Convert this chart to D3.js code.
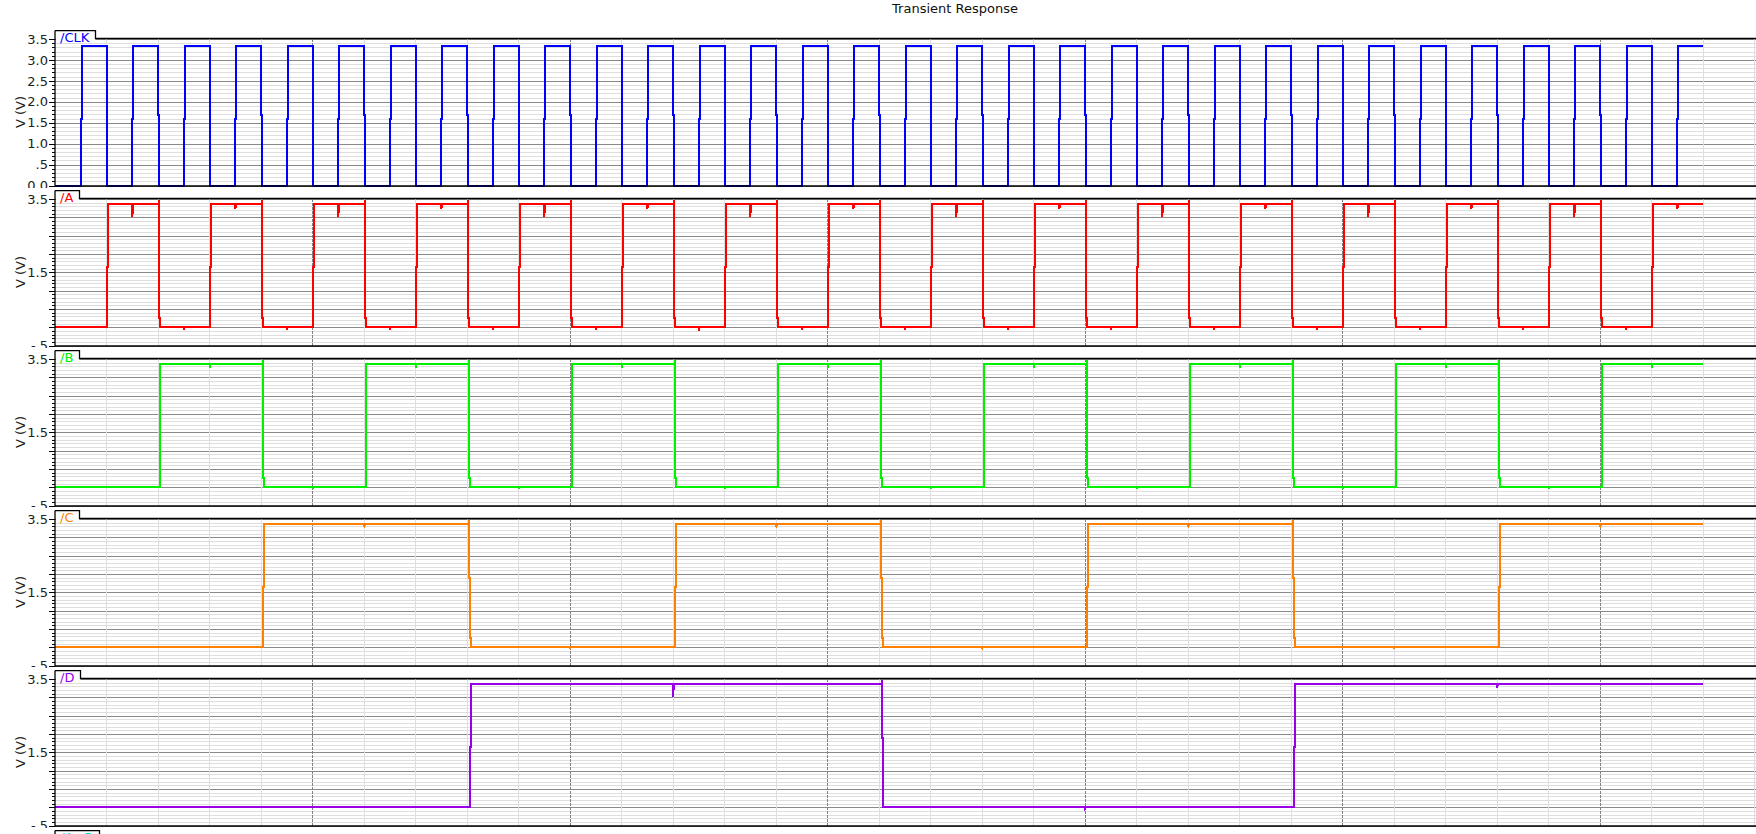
<!DOCTYPE html>
<html><head><meta charset="utf-8">
<script src="https://cdn.jsdelivr.net/npm/d3@7"></script>
<style>
body{margin:0;background:#fff;overflow:hidden}
svg{display:block}
text{font-family:"DejaVu Sans",sans-serif}
</style></head><body>
<svg id="chart" width="1756" height="834"></svg>
<script>
// ---------------- data ----------------
const title = "Transient Response";
const signalNames = ["/CLK", "/A", "/B", "/C", "/D", "/A+B"];
const signalColors = ["#0000ff", "#ff0000", "#00f000", "#ff8000", "#9a00e6", "#00e0e0"];
const yAxisTitle = "V (V)";
const endTime = 32;

// transition times (time units = one clock period)
const clkEdges = [0.5, 1, 1.5, 2, 2.5, 3, 3.5, 4, 4.5, 5, 5.5, 6, 6.5, 7, 7.5, 8, 8.5, 9, 9.5, 10,
  10.5, 11, 11.5, 12, 12.5, 13, 13.5, 14, 14.5, 15, 15.5, 16, 16.5, 17, 17.5, 18, 18.5, 19, 19.5, 20,
  20.5, 21, 21.5, 22, 22.5, 23, 23.5, 24, 24.5, 25, 25.5, 26, 26.5, 27, 27.5, 28, 28.5, 29, 29.5, 30,
  30.5, 31, 31.5];
const aEdges = [1.01, 2.01, 3.01, 4.01, 5.01, 6.01, 7.01, 8.01, 9.01, 10.01, 11.01, 12.01, 13.01, 14.01,
  15.01, 16.01, 17.01, 18.01, 19.01, 20.01, 21.01, 22.01, 23.01, 24.01, 25.01, 26.01, 27.01, 28.01,
  29.01, 30.01, 31.01];
const bEdges = [2.03, 4.03, 6.03, 8.03, 10.03, 12.03, 14.03, 16.03, 18.03, 20.03, 22.03, 24.03, 26.03,
  28.03, 30.03];
const cEdges = [4.04, 8.04, 12.04, 16.04, 20.04, 24.04, 28.04];
const dEdges = [8.05, 16.05, 24.05];

// small coupling glitches [time, volts]
const clkGlitches = [];
const aGlitches = [[1.5, 3.0], [2.5, -0.08], [3.5, 3.22], [4.5, -0.06], [5.5, 3.02], [6.5, -0.08],
  [7.5, 3.22], [8.5, -0.06], [9.5, 3.02], [10.5, -0.06], [11.5, 3.22], [12.5, -0.1], [13.5, 3.02],
  [14.5, -0.06], [15.5, 3.22], [16.5, -0.08], [17.5, 3.02], [18.5, -0.06], [19.5, 3.22], [20.5, -0.08],
  [21.5, 3.02], [22.5, -0.06], [23.5, 3.22], [24.5, -0.08], [25.5, 3.02], [26.5, -0.06], [27.5, 3.22],
  [28.5, -0.08], [29.5, 3.02], [30.5, -0.06], [31.5, 3.22]];
const bGlitches = [[3.0, 3.27], [5.0, -0.05], [7.0, 3.27], [9.0, -0.05], [11.0, 3.27], [13.0, -0.05],
  [15.0, 3.27], [17.0, -0.05], [19.0, 3.27], [21.0, -0.05], [23.0, 3.27], [25.0, -0.05], [27.0, 3.27],
  [29.0, -0.05], [31.0, 3.27]];
const cGlitches = [[6.0, 3.27], [10.0, -0.05], [14.0, 3.27], [18.0, -0.06], [22.0, 3.27], [26.0, -0.05], [30.0, 3.27]];
const dGlitches = [[12.0, 3.0], [20.0, -0.04], [28.0, 3.25]];

// levels: [low, high, rise step, fall step, overshoot]
const clkLevels = [0.0, 3.34, 1.59, 1.69, 3.34];
const logicLevels = [0.0, 3.35, 1.65, 1.88, 3.47];

// axis ticks
const clkTickValues = [0, 0.5, 1.0, 1.5, 2.0, 2.5, 3.0, 3.5];
const clkTickLabels = ["0.0", ".5", "1.0", "1.5", "2.0", "2.5", "3.0", "3.5"];
const logicTickValues = [-0.5, 1.5, 3.5];
const logicTickLabels = ["-.5", "1.5", "3.5"];
const clkDomain = [0, 3.5];
const logicDomain = [-0.5, 3.5];

// ---------------- layout ----------------
const W = 1756, H = 834;
const plotLeft = 55, plotRight = 1756;
const panelPitch = 160, panelTop0 = 38.5, panelBottom0 = 185.5, tabH = 8;
const svg = d3.select("#chart");

const x = d3.scaleLinear().domain([0, 33]).range([plotLeft, plotLeft + 33 * 51.5]);

svg.append("text").attr("x", 955).attr("y", 13).attr("text-anchor", "middle")
  .attr("font-size", 13).attr("fill", "#111").text(title);

const panels = [
  {edges: clkEdges, glitches: clkGlitches, levels: clkLevels, domain: clkDomain, tv: clkTickValues, tl: clkTickLabels},
  {edges: aEdges, glitches: aGlitches, levels: logicLevels, domain: logicDomain, tv: logicTickValues, tl: logicTickLabels},
  {edges: bEdges, glitches: bGlitches, levels: logicLevels, domain: logicDomain, tv: logicTickValues, tl: logicTickLabels},
  {edges: cEdges, glitches: cGlitches, levels: logicLevels, domain: logicDomain, tv: logicTickValues, tl: logicTickLabels},
  {edges: dEdges, glitches: dGlitches, levels: logicLevels, domain: logicDomain, tv: logicTickValues, tl: logicTickLabels},
  {edges: null, glitches: [], levels: logicLevels, domain: logicDomain, tv: logicTickValues, tl: logicTickLabels}
];

const defs = svg.append("defs");

function buildPoints(p) {
  const [low, high, midUp, midDown, over] = p.levels;
  const jog = 0.018;
  const ev = p.edges.map(t => ({t, kind: "e"}))
    .concat(p.glitches.map(g => ({t: g[0], kind: "g", v: g[1]})))
    .sort((a, b) => a.t - b.t);
  let lvl = low;
  const pts = [[0, lvl]];
  ev.forEach(e => {
    if (e.kind === "e") {
      if (lvl === low) {
        pts.push([e.t, low], [e.t, midUp], [e.t + jog, midUp], [e.t + jog, high]);
        lvl = high;
      } else {
        pts.push([e.t, high], [e.t, over], [e.t, midDown], [e.t + jog, midDown]);
        if (over !== high) pts.push([e.t + jog, 0.25], [e.t + 2 * jog, 0.25], [e.t + 2 * jog, low]);
        else pts.push([e.t + jog, low]);
        lvl = low;
      }
    } else {
      pts.push([e.t, lvl], [e.t, e.v], [e.t + jog, lvl]);
    }
  });
  pts.push([endTime, lvl]);
  return pts;
}

panels.forEach((p, k) => {
  const top = panelTop0 + k * panelPitch;
  const bottom = panelBottom0 + k * panelPitch;
  const visible = bottom < H;
  const clipId = "clip" + k;
  defs.append("clipPath").attr("id", clipId).append("rect")
    .attr("x", 0).attr("y", top - tabH - 0.5).attr("width", W).attr("height", bottom - top + tabH + 3);
  const g = svg.append("g").attr("clip-path", `url(#${clipId})`);
  const y = d3.scaleLinear().domain(p.domain).range([bottom, top + 0.5]);

  const minorV = d3.range(Math.round(p.domain[0] * 10), Math.round(p.domain[1] * 10) + 1).map(v => v / 10);
  const majorV = minorV.filter(v => Math.abs(Math.round(v * 2) - v * 2) < 1e-6);
  const minorOnly = minorV.filter(v => !majorV.includes(v));

  if (visible) {
    // horizontal grid
    g.append("g").attr("transform", `translate(${plotLeft},0)`)
      .call(d3.axisLeft(y).tickValues(minorOnly).tickSize(-(plotRight - plotLeft)).tickFormat(""))
      .call(s => s.select(".domain").remove())
      .call(s => s.selectAll("line").attr("stroke", "#dedede").attr("shape-rendering", "crispEdges"));
    g.append("g").attr("transform", `translate(${plotLeft},0)`)
      .call(d3.axisLeft(y).tickValues(majorV).tickSize(-(plotRight - plotLeft)).tickFormat(""))
      .call(s => s.select(".domain").remove())
      .call(s => s.selectAll("line").attr("stroke", "#8a8a8a").attr("shape-rendering", "crispEdges"));

    // vertical grid
    const vt = d3.range(1, 34);
    g.append("g").selectAll("line").data(vt.filter(t => t % 5 !== 0)).join("line")
      .attr("x1", d => x(d)).attr("x2", d => x(d)).attr("y1", top).attr("y2", bottom)
      .attr("stroke", "#dedede").attr("shape-rendering", "crispEdges");
    g.append("g").selectAll("line").data(vt.filter(t => t % 5 === 0)).join("line")
      .attr("x1", d => x(d)).attr("x2", d => x(d)).attr("y1", top).attr("y2", bottom)
      .attr("stroke", "#808080").attr("stroke-dasharray", "3,1").attr("shape-rendering", "crispEdges");

    // signal
    if (p.edges) {
      const pts = buildPoints(p);
      g.append("path").datum(pts)
        .attr("d", d3.line().x(d => x(d[0])).y(d => y(d[1])))
        .attr("fill", "none").attr("stroke", signalColors[k]).attr("stroke-width", 2)
        .attr("stroke-linejoin", "miter").attr("shape-rendering", "crispEdges");
    }

    // bottom border
    g.append("line").attr("x1", plotLeft).attr("x2", plotRight).attr("y1", bottom + 0.5).attr("y2", bottom + 0.5)
      .attr("stroke", "#000").attr("stroke-width", 1.3);

    // y axis minor ticks
    g.append("g").attr("transform", `translate(${plotLeft},0)`)
      .call(d3.axisLeft(y).tickValues(minorOnly).tickSize(3).tickFormat(""))
      .call(s => s.select(".domain").remove())
      .call(s => s.selectAll("line").attr("stroke", "#000").attr("shape-rendering", "crispEdges"));
    // y axis major ticks + labels
    const labelMap = new Map(p.tv.map((v, i) => [v, p.tl[i]]));
    g.append("g").attr("transform", `translate(${plotLeft},0)`)
      .call(d3.axisLeft(y).tickValues(majorV).tickSize(6).tickPadding(1)
        .tickFormat(v => labelMap.has(v) ? labelMap.get(v) : ""))
      .call(s => s.select(".domain").remove())
      .call(s => s.selectAll("line").attr("stroke", "#000").attr("shape-rendering", "crispEdges"))
      .call(s => s.selectAll("text").attr("font-size", 13).attr("fill", "#222")
        .attr("font-family", "DejaVu Sans, sans-serif"));

    // y title
    g.append("text").attr("transform", `translate(20,${(top + bottom) / 2}) rotate(-90)`)
      .attr("text-anchor", "middle").attr("dy", "0.35em").attr("font-size", 13).attr("fill", "#222")
      .text(yAxisTitle);
  }

  // axis line
  g.append("line").attr("x1", plotLeft).attr("x2", plotLeft).attr("y1", top - tabH).attr("y2", Math.min(bottom + 1, H))
    .attr("stroke", "#000").attr("stroke-width", 1.3);

  // tab
  const tabBg = g.append("rect").attr("x", plotLeft + 1).attr("y", top - tabH)
    .attr("height", tabH + 3.5).attr("fill", "#fff");
  const tabText = g.append("text").attr("x", 60).attr("y", top + 3)
    .attr("font-size", 13).attr("fill", signalColors[k]).text(signalNames[k]);
  const tw = tabText.node().getComputedTextLength();
  const tabRight = Math.round(60 + tw + 6) + 0.5;
  tabBg.attr("width", tabRight - plotLeft - 1);
  g.append("path")
    .attr("d", `M${plotLeft},${top - tabH}H${tabRight}V${top}H${plotRight}`)
    .attr("fill", "none").attr("stroke", "#000").attr("stroke-width", 1.3);
});
</script>
</body></html>
